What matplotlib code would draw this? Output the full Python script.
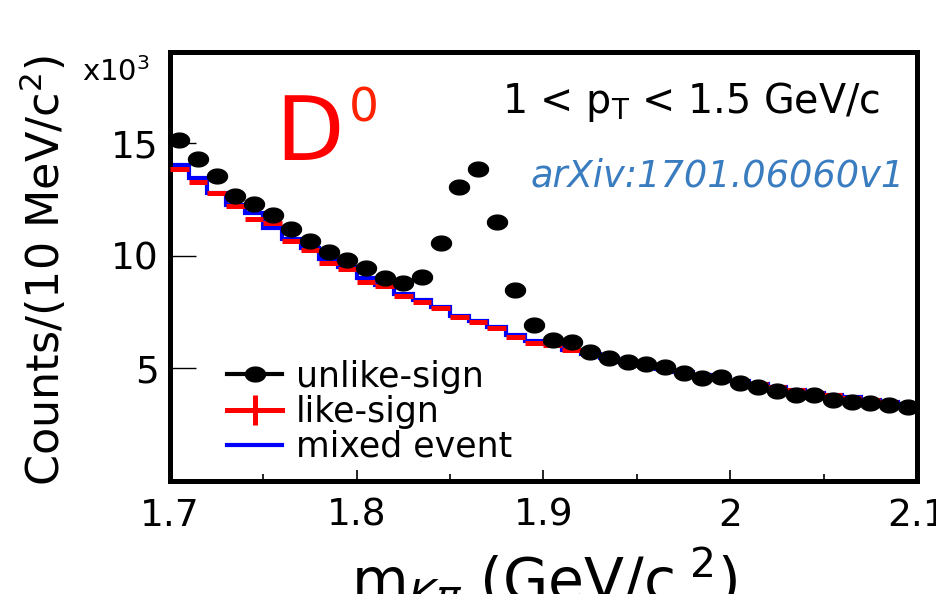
import numpy as np
import matplotlib
matplotlib.use("Agg")
import matplotlib.pyplot as plt
from matplotlib.path import Path
from matplotlib.lines import Line2D
from matplotlib.ticker import MultipleLocator

# invariant mass bins, 10 MeV wide
edges = np.round(np.arange(1.70, 2.1001, 0.01), 3)
centers = 0.5 * (edges[:-1] + edges[1:])

# counts in units of 10^3
unlike_sign = [15.13, 14.29, 13.53, 12.64, 12.29, 11.80, 11.18, 10.64, 10.18, 9.82,
               9.47, 9.02, 8.80, 9.07, 10.58, 13.07, 13.87, 11.51, 8.49, 6.93,
               6.27, 6.18, 5.73, 5.47, 5.29, 5.20, 5.07, 4.80, 4.58, 4.62,
               4.36, 4.16, 4.00, 3.82, 3.82, 3.60, 3.51, 3.47, 3.38, 3.29]
like_sign = [13.85, 13.30, 12.80, 12.20, 11.65, 11.45, 10.65, 10.25, 9.70, 9.42,
             8.85, 8.67, 8.22, 7.96, 7.69, 7.29, 7.07, 6.80, 6.40, 6.13,
             6.04, 5.80, 5.62, 5.45, 5.28, 5.12, 4.97, 4.82, 4.68, 4.55,
             4.42, 4.29, 4.16, 4.04, 3.92, 3.81, 3.70, 3.59, 3.49, 3.39]
mixed_event = [14.05, 13.45, 12.80, 12.25, 11.90, 11.25, 10.75, 10.35, 9.85, 9.50,
               9.00, 8.72, 8.30, 8.05, 7.72, 7.35, 7.12, 6.85, 6.48, 6.20,
               6.08, 5.82, 5.62, 5.47, 5.30, 5.14, 4.98, 4.83, 4.69, 4.56,
               4.43, 4.30, 4.17, 4.05, 3.93, 3.82, 3.71, 3.60, 3.50, 3.40]

xticks = [1.7, 1.8, 1.9, 2.0, 2.1]
xtick_labels = ["1.7", "1.8", "1.9", "2", "2.1"]
yticks = [5, 10, 15]

plt.rcParams["font.family"] = ["DejaVu Sans"]
plt.rcParams["mathtext.fontset"] = "dejavusans"

# slightly wide dot
t = np.linspace(0, 2 * np.pi, 61)
dot = Path(np.column_stack([np.cos(t), 0.74 * np.sin(t)]), closed=True)

fig = plt.figure(figsize=(9.36, 5.94), dpi=100)
ax = fig.add_axes([0.1816, 0.1902, 0.7981, 0.7222])

ax.stairs(mixed_event, edges, baseline=None, color="blue", lw=3.0, zorder=2)
ax.errorbar(centers, like_sign, xerr=0.005, fmt="none", ecolor="red",
            elinewidth=3.6, capsize=0, zorder=3)
ax.plot(centers, unlike_sign, ls="none", marker=dot, ms=14.4,
        color="black", zorder=4)

ax.set_xlim(1.7, 2.1)
ax.set_ylim(0, 19.05)
ax.set_xticks(xticks)
ax.set_xticklabels(xtick_labels)
ax.xaxis.set_minor_locator(MultipleLocator(0.05))
ax.set_yticks(yticks)
ax.tick_params(axis="both", which="both", direction="in", labelsize=27)
ax.tick_params(axis="x", which="major", length=8, width=1.2, pad=12)
ax.tick_params(axis="x", which="minor", length=5, width=1.2)
ax.tick_params(axis="y", which="major", length=19, width=1.0, pad=8)
for sp in ax.spines.values():
    sp.set_linewidth(3.6)

ax.set_ylabel(r"Counts/(10 MeV/c$^{2}$)", fontsize=32)
ax.yaxis.set_label_coords(-0.135, 0.49)
ax.set_xlabel(r"m$_{K\pi}$ (GeV/c$^{\ 2}$)", fontsize=42)
ax.xaxis.set_label_coords(0.5, -0.152)

fig.text(82 / 936, 1 - 81 / 594, r"x10$^{3}$", fontsize=21, va="baseline")

ax.text(0.1406, 0.748, "D", fontsize=64, color="#ff0000", va="baseline",
        transform=ax.transAxes)
ax.text(0.2396, 0.838, "0", fontsize=34, color="#ff2200", va="baseline",
        transform=ax.transAxes)
ax.text(0.950, 0.858, r"1 < p$_{\mathrm{T}}$ < 1.5 GeV/c", fontsize=28.5,
        ha="right", va="baseline", transform=ax.transAxes)
ax.text(0.984, 0.6876, "arXiv:1701.06060v1", fontsize=26.5, style="italic",
        color="#3a7cc0", ha="right", va="baseline", transform=ax.transAxes)

handles = [
    Line2D([], [], color="black", lw=3.0, marker=dot, ms=14.4),
    Line2D([], [], color="red", lw=3.6, marker="|", ms=22, mew=3.6),
    Line2D([], [], color="blue", lw=3.0),
]
ax.legend(handles, ["unlike-sign", "like-sign", "mixed event"],
          loc="upper left", bbox_to_anchor=(0.076, 0.283), fontsize=25,
          frameon=False, borderpad=0, borderaxespad=0, handlelength=1.6,
          handletextpad=0.4, labelspacing=0.03)

fig.savefig("out.png", dpi=100)
